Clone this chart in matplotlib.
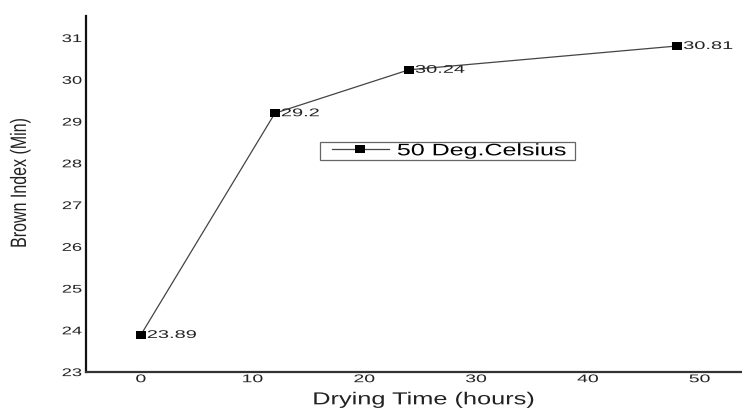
import matplotlib
matplotlib.use("Agg")
import matplotlib.pyplot as plt
from matplotlib.patheffects import AbstractPathEffect
from matplotlib.transforms import Affine2D
from matplotlib.legend_handler import HandlerLine2D

# drying time (hours) and brown index
hours = [0, 12, 24, 48]
brown = [23.89, 29.2, 30.24, 30.81]
labels = ["23.89", "29.2", "30.24", "30.81"]
xticks = [0, 10, 20, 30, 40, 50]
yticks = [23, 24, 25, 26, 27, 28, 29, 30, 31]


class Stretch(AbstractPathEffect):
    """widen (or narrow) glyphs along the text direction"""

    def __init__(self, sx, anchor='left'):
        super().__init__()
        self.sx = sx
        self.anchor = anchor

    def draw_path(self, renderer, gc, tpath, affine, rgbFace=None):
        ext = tpath.get_extents()
        cx = {'left': 0.0, 'center': (ext.x0 + ext.x1) / 2, 'right': ext.x1}[self.anchor]
        st = Affine2D().translate(-cx, 0).scale(self.sx, 1).translate(cx, 0)
        renderer.draw_path(gc, tpath, st + affine, rgbFace)


plt.rcParams['font.family'] = ['Liberation Sans', 'DejaVu Sans']
ink = '#222222'

fig = plt.figure(figsize=(7.42, 4.08), dpi=100)
ax = fig.add_axes([0.116, 0.088, 0.884, 0.873])

# flat rectangle marker
box = [(-1, -0.72), (1, -0.72), (1, 0.72), (-1, 0.72), (-1, -0.72)]
line, = ax.plot(hours, brown, color='#444444', lw=0.9, marker=box, ms=7.3,
                mfc='black', mec='black', mew=0, label='50 Deg.Celsius')
for x, y, t in zip(hours, brown, labels):
    a = ax.annotate(t, (x, y), xytext=(4.3, 0), textcoords='offset points',
                    va='center', ha='left', fontsize=8, color=ink)
    a.set_path_effects([Stretch(1.8, 'left')])

ax.set_xlim(-4.9, 53.8)
ax.set_ylim(23, 31.53)
ax.set_xticks(xticks)
ax.set_yticks(yticks)
ax.tick_params(length=0, labelsize=8, colors=ink)
ax.tick_params(axis='x', pad=1.5)
ax.tick_params(axis='y', pad=3)
for lbl in ax.get_xticklabels():
    lbl.set_path_effects([Stretch(1.75, 'center')])
for lbl in ax.get_yticklabels():
    lbl.set_path_effects([Stretch(1.65, 'right')])

for s in ['top', 'right']:
    ax.spines[s].set_visible(False)
ax.spines['left'].set_linewidth(1.6)
ax.spines['left'].set_color('#111111')
ax.spines['bottom'].set_linewidth(1.6)
ax.spines['bottom'].set_color('#333333')

ax.set_xlabel('Drying Time (hours)', fontsize=12.5, color=ink)
ax.xaxis.label.set_va('baseline')
ax.xaxis.set_label_coords(0.515, -0.0905)
ax.xaxis.label.set_path_effects([Stretch(1.46, 'center')])

ax.set_ylabel('Brown Index (Min)', fontsize=16, color=ink)
ax.yaxis.label.set_va('center')
ax.yaxis.set_label_coords(-0.1, 0.531)
ax.yaxis.label.set_path_effects([Stretch(0.72, 'center')])

leg = ax.legend(loc='lower left', bbox_to_anchor=(0.357, 0.5955, 0.389, 0.06),
                mode='expand', fontsize=12, fancybox=False, framealpha=1,
                edgecolor='#666666', handlelength=4.0, borderpad=0.1,
                handletextpad=0.5, borderaxespad=0,
                handler_map={line: HandlerLine2D(xpad=0.6)})
leg.get_frame().set_linewidth(0.9)
leg.get_texts()[0].set_path_effects([Stretch(1.5, 'left')])

fig.savefig('out.png', dpi=100)
